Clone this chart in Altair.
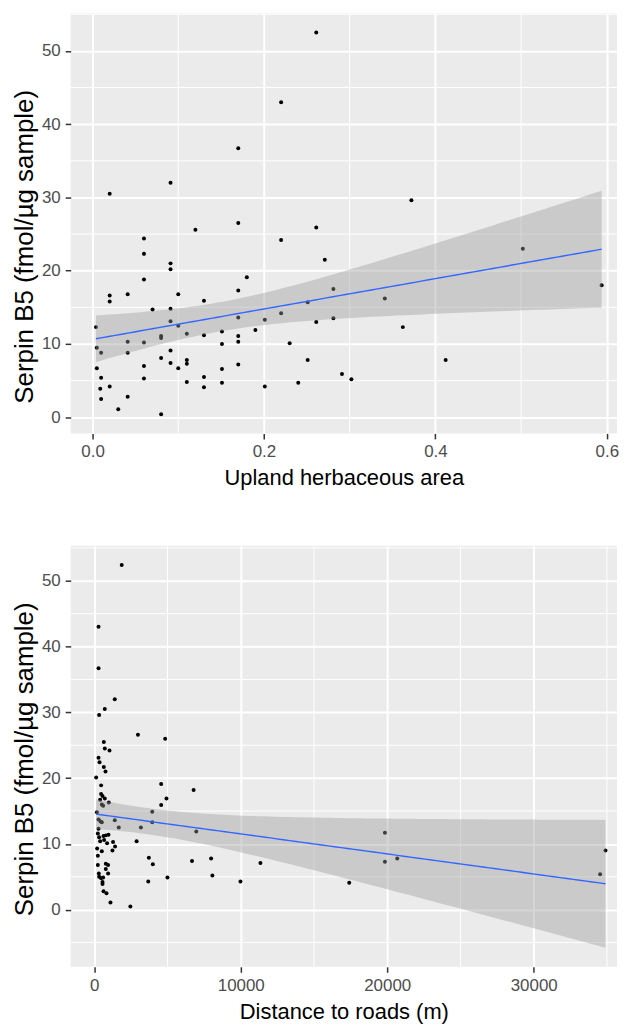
import numpy as np
import pandas as pd
import altair as alt

# ---------------- data ----------------
herb_x = [0.020, 0.091, 0.170, 0.261, 0.220, 0.372,
          0.004, 0.005, 0.010, 0.005, 0.010, 0.009, 0.010,
          0.020, 0.020, 0.020, 0.030,
          0.041, 0.041, 0.041, 0.041,
          0.060, 0.060, 0.060, 0.060, 0.060, 0.060,
          0.070,
          0.080, 0.080, 0.080, 0.080,
          0.091, 0.091, 0.091, 0.091, 0.091, 0.091,
          0.100, 0.100, 0.100,
          0.110, 0.110, 0.110, 0.110,
          0.120,
          0.130, 0.130, 0.130, 0.130,
          0.151, 0.151, 0.151, 0.151,
          0.170, 0.170, 0.170, 0.170, 0.170, 0.170,
          0.180, 0.190,
          0.220, 0.261, 0.271, 0.201, 0.201, 0.220, 0.230, 0.240, 0.251, 0.251,
          0.261, 0.281, 0.281, 0.291, 0.302, 0.341, 0.362, 0.412, 0.502, 0.594]
herb_y = [30.5, 32.0, 36.7, 52.5, 43.0, 29.6,
          12.3, 9.5, 8.8, 6.7, 5.4, 3.9, 2.5,
          16.6, 15.8, 4.2, 1.1,
          16.8, 10.3, 8.8, 2.8,
          24.4, 22.3, 18.8, 10.2, 7.0, 5.3,
          14.7,
          11.1, 10.8, 8.1, 0.4,
          21.0, 20.2, 14.8, 13.1, 9.1, 7.4,
          16.8, 12.5, 6.7,
          11.4, 7.8, 7.3, 4.8,
          25.6,
          15.9, 11.2, 5.5, 4.1,
          11.7, 10.0, 6.6, 4.7,
          26.5, 17.3, 13.6, 11.1, 10.3, 7.2,
          19.1, 11.9,
          24.2, 25.9, 21.5, 13.3, 4.2, 14.2, 10.1, 4.7, 15.7, 7.8,
          13.0, 17.5, 13.5, 5.9, 5.2, 16.2, 12.3, 7.8, 23.0, 18.0]

road_x = [1874, 292, 292, 1400, 720, 333,
          2982, 4840, 652, 720, 1039, 292, 360, 652, 767, 129, 4569, 6782,
          468, 468, 563, 720, 400, 991, 4929, 4569, 516, 604, 177, 3958,
          292, 428, 516, 1400, 3958, 1670, 3184, 292, 6965, 244, 631, 788,
          971, 333, 672, 876, 1283, 400, 2892, 1419, 197, 516, 1242, 244,
          3727, 3999, 6673, 788, 944, 244, 788, 944, 312, 333, 468, 604,
          563, 563, 3686, 4997, 631, 835, 1106, 2464,
          7977, 8065, 9980, 11345, 17407, 19844, 19844, 20686, 34535, 34902]
road_y = [52.4, 43.0, 36.7, 32.0, 30.5, 29.6,
          26.6, 26.0, 25.5, 24.5, 24.2, 23.1, 22.4, 21.7, 21.0, 20.1, 19.1, 18.2,
          18.9, 17.6, 17.3, 16.9, 16.7, 16.3, 16.9, 15.9, 16.0, 15.8, 14.8, 14.9,
          13.7, 13.4, 13.3, 13.6, 13.3, 12.5, 12.5, 12.3, 11.9, 11.6, 11.2, 11.3,
          11.4, 11.0, 10.6, 10.1, 10.3, 10.4, 10.4, 9.6, 9.3, 8.9, 9.0, 8.2,
          7.9, 6.9, 7.4, 7.0, 6.8, 6.8, 6.2, 5.5, 5.5, 5.0, 4.8, 4.9,
          4.2, 3.9, 4.3, 4.9, 2.8, 2.5, 1.1, 0.5,
          7.8, 5.2, 4.3, 7.1, 4.1, 11.7, 7.3, 7.8, 5.4, 9.0]

y_ticks = [0, 10, 20, 30, 40, 50]
y_minor = [-5, 5, 15, 25, 35, 45, 55]
herb_ticks = [0.0, 0.2, 0.4, 0.6]
herb_minor = [0.1, 0.3, 0.5]
road_ticks = [0, 10000, 20000, 30000]
road_minor = [5000, 15000, 25000, 35000]

Y_TITLE = "Serpin B5 (fmol/µg sample)"
FONT = "Liberation Sans"


def lm_fit(x, y, t=1.99, n_grid=80):
    x = np.asarray(x, float)
    y = np.asarray(y, float)
    n = len(x)
    b1, b0 = np.polyfit(x, y, 1)
    xs = np.linspace(x.min(), x.max(), n_grid)
    yh = b0 + b1 * xs
    res = y - (b0 + b1 * x)
    s = np.sqrt((res ** 2).sum() / (n - 2))
    se = s * np.sqrt(1.0 / n + (xs - x.mean()) ** 2 / ((x - x.mean()) ** 2).sum())
    return pd.DataFrame({"x": xs, "fit": yh, "lo": yh - t * se, "hi": yh + t * se})


def expand(lo, hi, m=0.05):
    r = hi - lo
    return lo - m * r, hi + m * r


def panel(xv, yv, xticks, xminor, xfmt, xtitle, width, height, full_width, ytitle_y):
    pts = pd.DataFrame({"x": xv, "y": yv})
    fit = lm_fit(xv, yv)
    x0, x1 = expand(min(xv), max(xv))
    x1 = x0 + (x1 - x0) * width / full_width  # right side cut like the reference
    y0, y1 = expand(min(min(yv), fit["lo"].min()), max(max(yv), fit["hi"].max()))

    xs = alt.Scale(domain=[x0, x1], nice=False, zero=False)
    ys = alt.Scale(domain=[y0, y1], nice=False, zero=False)
    xaxis = alt.Axis(values=xticks, format=xfmt, title=xtitle)
    yaxis = alt.Axis(values=y_ticks, format="d", title=Y_TITLE,
                     titleFontSize=26, titleY=ytitle_y, titlePadding=4)

    vminor = alt.Chart(pd.DataFrame({"v": xminor})).mark_rule(
        color="white", strokeWidth=1, clip=True
    ).encode(x=alt.X("v:Q", scale=xs, axis=xaxis))
    hminor = alt.Chart(pd.DataFrame({"v": y_minor})).mark_rule(
        color="white", strokeWidth=1, clip=True
    ).encode(y=alt.Y("v:Q", scale=ys, axis=yaxis))

    points = alt.Chart(pts).mark_circle(size=16, color="black", opacity=1).encode(
        x=alt.X("x:Q", scale=xs, axis=xaxis),
        y=alt.Y("y:Q", scale=ys, axis=yaxis),
    )
    band = alt.Chart(fit).mark_area(color="#999999", opacity=0.4).encode(
        x=alt.X("x:Q", scale=xs, axis=xaxis),
        y=alt.Y("lo:Q", scale=ys, axis=yaxis),
        y2="hi:Q",
    )
    line = alt.Chart(fit).mark_line(color="#3366FF", strokeWidth=1.4).encode(
        x=alt.X("x:Q", scale=xs, axis=xaxis),
        y=alt.Y("fit:Q", scale=ys, axis=yaxis),
    )
    return alt.layer(vminor, hminor, points, band, line).properties(
        width=width, height=height
    )


top = panel(herb_x, herb_y, herb_ticks, herb_minor, ".1f",
            "Upland herbaceous area", 549, 422, 559, 234)
bottom = panel(road_x, road_y, road_ticks, road_minor, "d",
               "Distance to roads (m)", 549, 423, 563, 214)

chart = alt.vconcat(top, bottom, spacing=57).properties(
    padding={"left": 3, "top": 3, "right": 0, "bottom": 0},
    background="white",
).configure_view(
    fill="#EBEBEB", strokeWidth=0
).configure_axis(
    domain=False,
    grid=True,
    gridColor="white",
    gridWidth=2,
    ticks=True,
    tickColor="#333333",
    tickWidth=1.5,
    tickSize=5.5,
    labelColor="#4D4D4D",
    labelFont=FONT,
    labelFontSize=17,
    labelPadding=5,
    titleFont=FONT,
    titleFontSize=22,
    titleFontWeight="normal",
    titleColor="black",
    titlePadding=8,
)

chart.save("out.html", embed_options={"renderer": "svg", "actions": False})
